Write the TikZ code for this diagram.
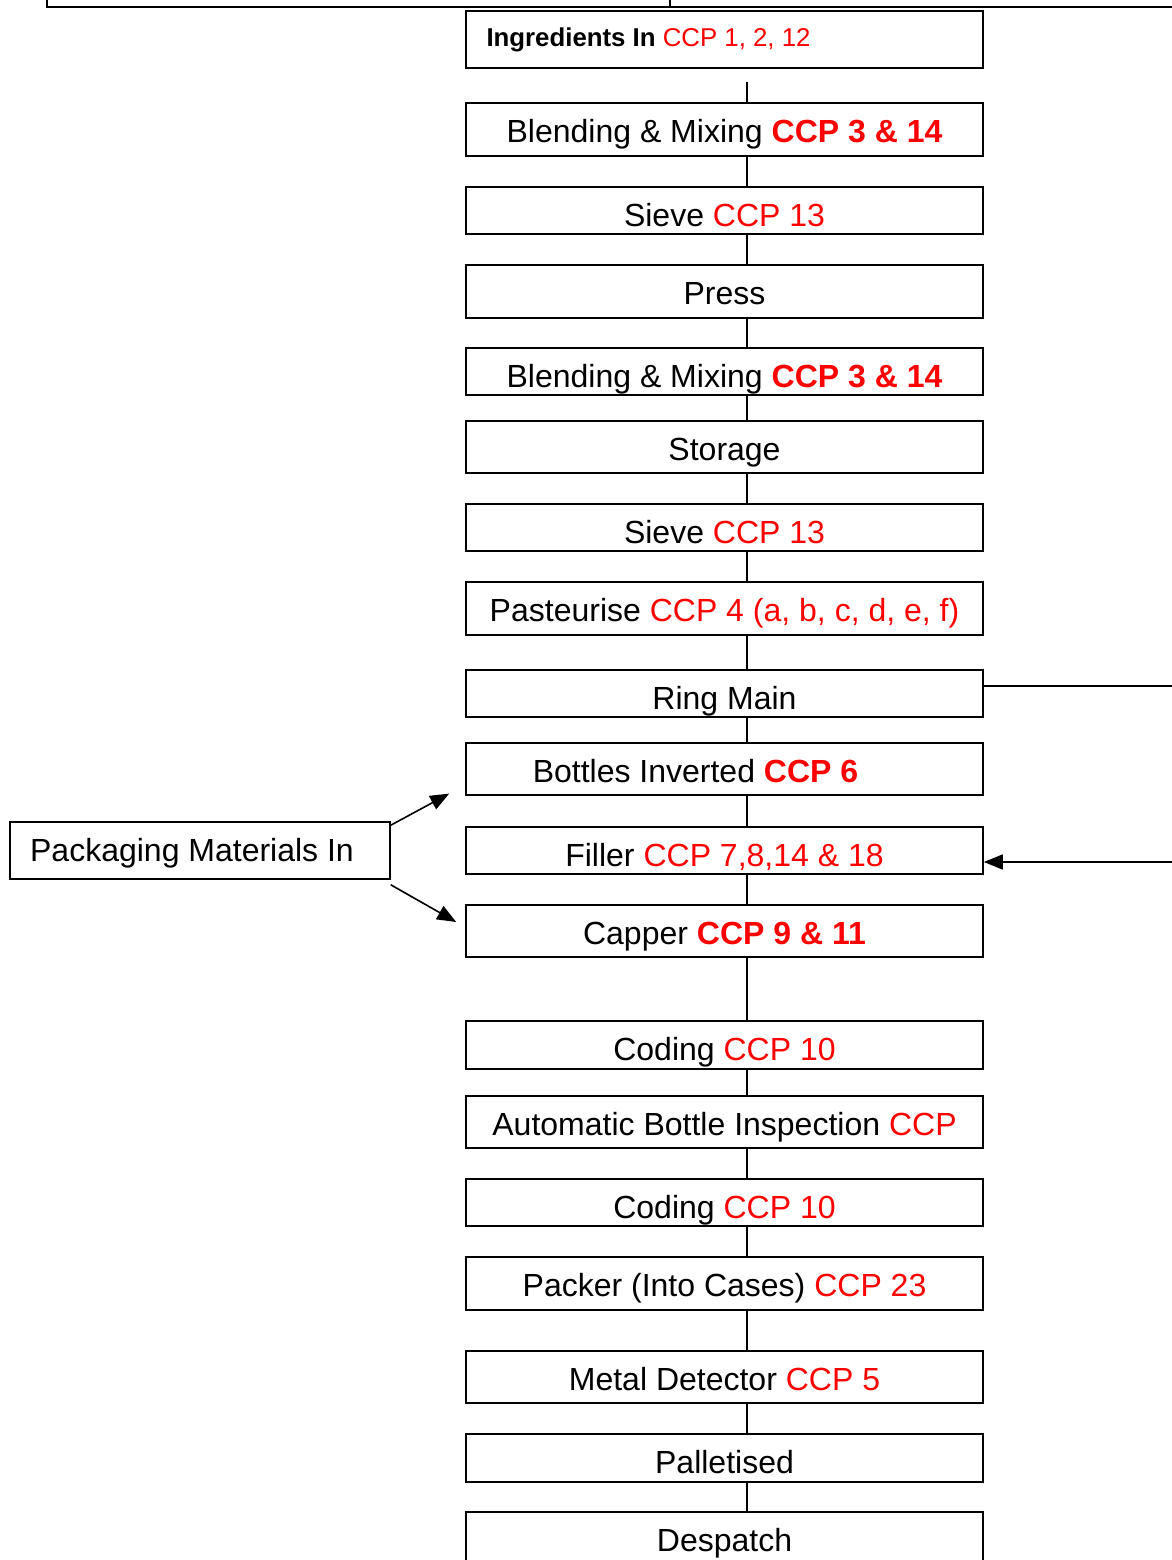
\documentclass[tikz,border=0pt]{standalone}
\usepackage{fontspec}
\setmainfont{Liberation Sans}
\usetikzlibrary{arrows.meta}
\newcommand{\rc}[1]{\textcolor{red}{#1}}
\newcommand{\rb}[1]{\textcolor{red}{\textbf{#1}}}
\begin{document}
\begin{tikzpicture}[x=1pt,y=-1pt,
  box/.style={draw, line width=1.6pt, minimum width=517pt, inner sep=0pt, anchor=north,
    font=\fontsize{32}{36}\selectfont, text height=40pt},
  conn/.style={line width=1.6pt},
  arr/.style={line width=1.6pt, -{Triangle[length=19pt,width=15pt]}}]
\useasboundingbox (0,0) rectangle (1172,1560);
% table fragment at top
\draw[conn] (47,0) -- (47,7) -- (1172,7);
\draw[conn] (670,0) -- (670,7);
% process boxes
\node[box, minimum height=57pt, text height=36pt, text depth=21pt, font=\fontsize{25.8}{30}\selectfont] (ing) at (724.5,10)
  {\makebox[476pt][l]{\textbf{Ingredients In} \rc{CCP 1, 2, 12}}};
\node[box, minimum height=53pt, text depth=13pt] (blend1) at (724.5,102) {Blending \& Mixing \rb{CCP 3 \& 14}};
\node[box, minimum height=47pt, text depth=7pt] (sieve1) at (724.5,186) {Sieve \rc{CCP 13}};
\node[box, minimum height=53pt, text depth=13pt] (press) at (724.5,264) {Press};
\node[box, minimum height=47pt, text depth=7pt] (blend2) at (724.5,347) {Blending \& Mixing \rb{CCP 3 \& 14}};
\node[box, minimum height=52pt, text depth=12pt] (storage) at (724.5,420) {Storage};
\node[box, minimum height=47pt, text depth=7pt] (sieve2) at (724.5,503) {Sieve \rc{CCP 13}};
\node[box, minimum height=53pt, text depth=13pt] (past) at (724.5,581) {Pasteurise \rc{CCP 4 (a, b, c, d, e, f)}};
\node[box, minimum height=47pt, text depth=7pt] (ring) at (724.5,669) {Ring Main};
\node[box, minimum height=52pt, text depth=12pt] (bottles) at (724.5,742) {Bottles Inverted \rb{CCP 6}\hspace*{58pt}};
\node[box, minimum height=47pt, text depth=7pt] (filler) at (724.5,826) {Filler \rc{CCP 7,8,14 \& 18}};
\node[box, minimum height=52pt, text depth=12pt] (capper) at (724.5,904) {Capper \rb{CCP 9 \& 11}};
\node[box, minimum height=48pt, text depth=8pt] (coding1) at (724.5,1020) {Coding \rc{CCP 10}};
\node[box, minimum height=52pt, text depth=12pt] (abi) at (724.5,1095) {Automatic Bottle Inspection \rc{CCP}};
\node[box, minimum height=47pt, text depth=7pt] (coding2) at (724.5,1178) {Coding \rc{CCP 10}};
\node[box, minimum height=53pt, text depth=13pt] (packer) at (724.5,1256) {Packer (Into Cases) \rc{CCP 23}};
\node[box, minimum height=52pt, text depth=12pt] (metal) at (724.5,1350) {Metal Detector \rc{CCP 5}};
\node[box, minimum height=48pt, text depth=8pt] (pallet) at (724.5,1433) {Palletised};
\node[box, minimum height=59pt, text depth=19pt] (desp) at (724.5,1511) {Despatch};
% packaging
\node[box, minimum width=380pt, minimum height=57pt, text height=22.5pt, text depth=0pt, anchor=center] (pack) at (200,850.5)
  {Packaging Materials In\hspace*{16pt}};
% vertical connectors
\draw[conn] ([xshift=22.5pt,yshift=-13pt]ing.south) -- ([xshift=22.5pt]blend1.north);
\foreach \a/\b in {blend1/sieve1, sieve1/press, press/blend2, blend2/storage, storage/sieve2,
  sieve2/past, past/ring, ring/bottles, bottles/filler, filler/capper, capper/coding1,
  coding1/abi, abi/coding2, coding2/packer, packer/metal, metal/pallet, pallet/desp}
  \draw[conn] ([xshift=22.5pt]\a.south) -- ([xshift=22.5pt]\b.north);
% packaging arrows
\draw[arr] ([yshift=-4pt]pack.north east) -- ([xshift=-16pt,yshift=2pt]bottles.south west);
\draw[arr] ([yshift=-5pt]pack.south east) -- ([xshift=-9pt,yshift=-18pt]capper.north west);
% ring main loop
\coordinate (rmout) at (1172,686);
\coordinate (fin) at (1172,862);
\draw[conn] (rmout -| ring.east) -- (rmout);
\draw[arr] (fin) -- (fin -| filler.east);
\end{tikzpicture}
\end{document}
